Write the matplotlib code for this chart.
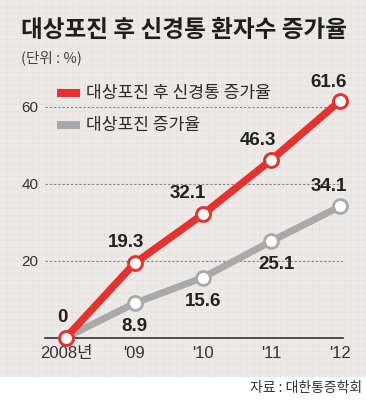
import matplotlib
matplotlib.use("Agg")
import matplotlib.pyplot as plt
from matplotlib.patches import Rectangle
from matplotlib.lines import Line2D

# ---- data ----
years = ["2008년", "'09", "'10", "'11", "'12"]
neuralgia = [0, 19.3, 32.1, 46.3, 61.6]     # 대상포진 후 신경통 증가율
zoster = [0, 8.9, 15.6, 25.1, 34.1]         # 대상포진 증가율
y_ticks = [20, 40, 60]
series_names = ["대상포진 후 신경통 증가율", "대상포진 증가율"]
title = "대상포진 후 신경통 환자수 증가율"
unit = "(단위 : %)"
source = "자료 : 대한통증학회"

RED = "#e8302c"
GRAY = "#a9a9a9"
BG = "#ece9e6"
DARK = "#222222"
KR = ["Noto Sans CJK KR", "DejaVu Sans"]
NUM = ["Liberation Sans", "Noto Sans CJK KR"]

W, H = 366, 400
fig = plt.figure(figsize=(W / 100, H / 100), dpi=100)
fig.patch.set_facecolor("white")

def fx(px):
    return px / W

def fy(py):
    return 1 - py / H

# background panel with faint graph-paper grid
fig.add_artist(Rectangle((0, fy(377)), 1, 377 / H, transform=fig.transFigure,
                         facecolor=BG, edgecolor="none", zorder=-3))
step = 6.5
g = step
while g < W:
    fig.add_artist(Line2D([fx(g), fx(g)], [fy(377), 1], transform=fig.transFigure,
                          color="#e5e2df", lw=0.5, zorder=-2))
    g += step
g = step
while g < 377:
    fig.add_artist(Line2D([0, 1], [fy(g), fy(g)], transform=fig.transFigure,
                          color="#e5e2df", lw=0.5, zorder=-2))
    g += step

# axes
left_px, right_px, bottom_px, top_px = 45, 343, 337.5, 80
ax = fig.add_axes([fx(left_px), fy(bottom_px), (right_px - left_px) / W,
                   (bottom_px - top_px) / H])
ax.set_facecolor("none")
x = list(range(len(years)))
px_per_x = 68.5
ax.set_xlim(-(66 - left_px) / px_per_x, 4 + (right_px - 340) / px_per_x)
px_per_y = (337.5 - 107) / 60
ax.set_ylim(0, (bottom_px - top_px) / px_per_y)

for s in ["top", "right", "left"]:
    ax.spines[s].set_visible(False)
ax.spines["bottom"].set_color("#333333")
ax.spines["bottom"].set_linewidth(1.2)

for yv in y_ticks:
    ax.axhline(yv, color="#8a8a8a", lw=0.8, linestyle=(0, (2.2, 1.6)), zorder=1)

ax.set_yticks(y_ticks)
ax.set_yticklabels([str(v) for v in y_ticks], family=NUM, fontsize=11, color="#333333")
ax.tick_params(axis="y", length=0, pad=4.5)

ax.set_xticks(x)
ax.set_xticklabels(years, family=NUM, fontsize=12, color="#333333")
ax.tick_params(axis="x", which="major", length=0, pad=6)
ax.set_xticks(x[1:], minor=True)
ax.tick_params(axis="x", which="minor", direction="in", length=6, width=1, color="#333333")

ax.plot(x, zoster, color=GRAY, lw=5, zorder=3, solid_capstyle="butt",
        marker="o", markersize=10, markerfacecolor="white", markeredgecolor=GRAY,
        markeredgewidth=2, clip_on=False)
ax.plot(x, neuralgia, color=RED, lw=5.3, zorder=4, solid_capstyle="butt",
        marker="o", markersize=10, markerfacecolor="white", markeredgecolor=RED,
        markeredgewidth=2.1, clip_on=False)

# data labels (offsets in pixels)
red_off = [(-4, 20), (-8, 20.5), (-15, 21), (-14, 19), (-11, 18.5)]
gray_off = [None, (0, -23), (0, -24), (5, -23), (-11, 20)]

def lab(xi, yi, txt, off):
    ax.annotate(txt, (xi, yi), xytext=(off[0] * 0.72, off[1] * 0.72),
                textcoords="offset points", ha="center", va="center",
                family=NUM, fontweight="bold", fontsize=13.5, color=DARK,
                zorder=6, annotation_clip=False)

for i, v in enumerate(neuralgia):
    lab(i, v, f"{v:g}", red_off[i])
for i, v in enumerate(zoster):
    if gray_off[i] is not None:
        lab(i, v, f"{v:g}", gray_off[i])

# title etc.
fig.text(fx(21), fy(30), title, family=KR, fontweight="bold", fontsize=17,
         color="#1e1e1e", va="center", ha="left")
fig.text(fx(21), fy(58), unit, family=KR, fontsize=10.5, color="#444444",
         va="center", ha="left")

# legend
for row, (name, col) in enumerate(zip(series_names, [RED, GRAY])):
    yc = 93 + row * 32
    fig.add_artist(Rectangle((fx(57), fy(yc + 4)), 23 / W, 8 / H,
                             transform=fig.transFigure, facecolor=col,
                             edgecolor="none", zorder=5))
    fig.text(fx(86), fy(yc), name, family=KR, fontsize=12.3, color="#2a2a2a",
             va="center", ha="left")

fig.text(fx(362), fy(388), source, family=KR, fontsize=10, color="#333333",
         va="center", ha="right")

fig.savefig("out.png", dpi=100, facecolor=fig.get_facecolor())
